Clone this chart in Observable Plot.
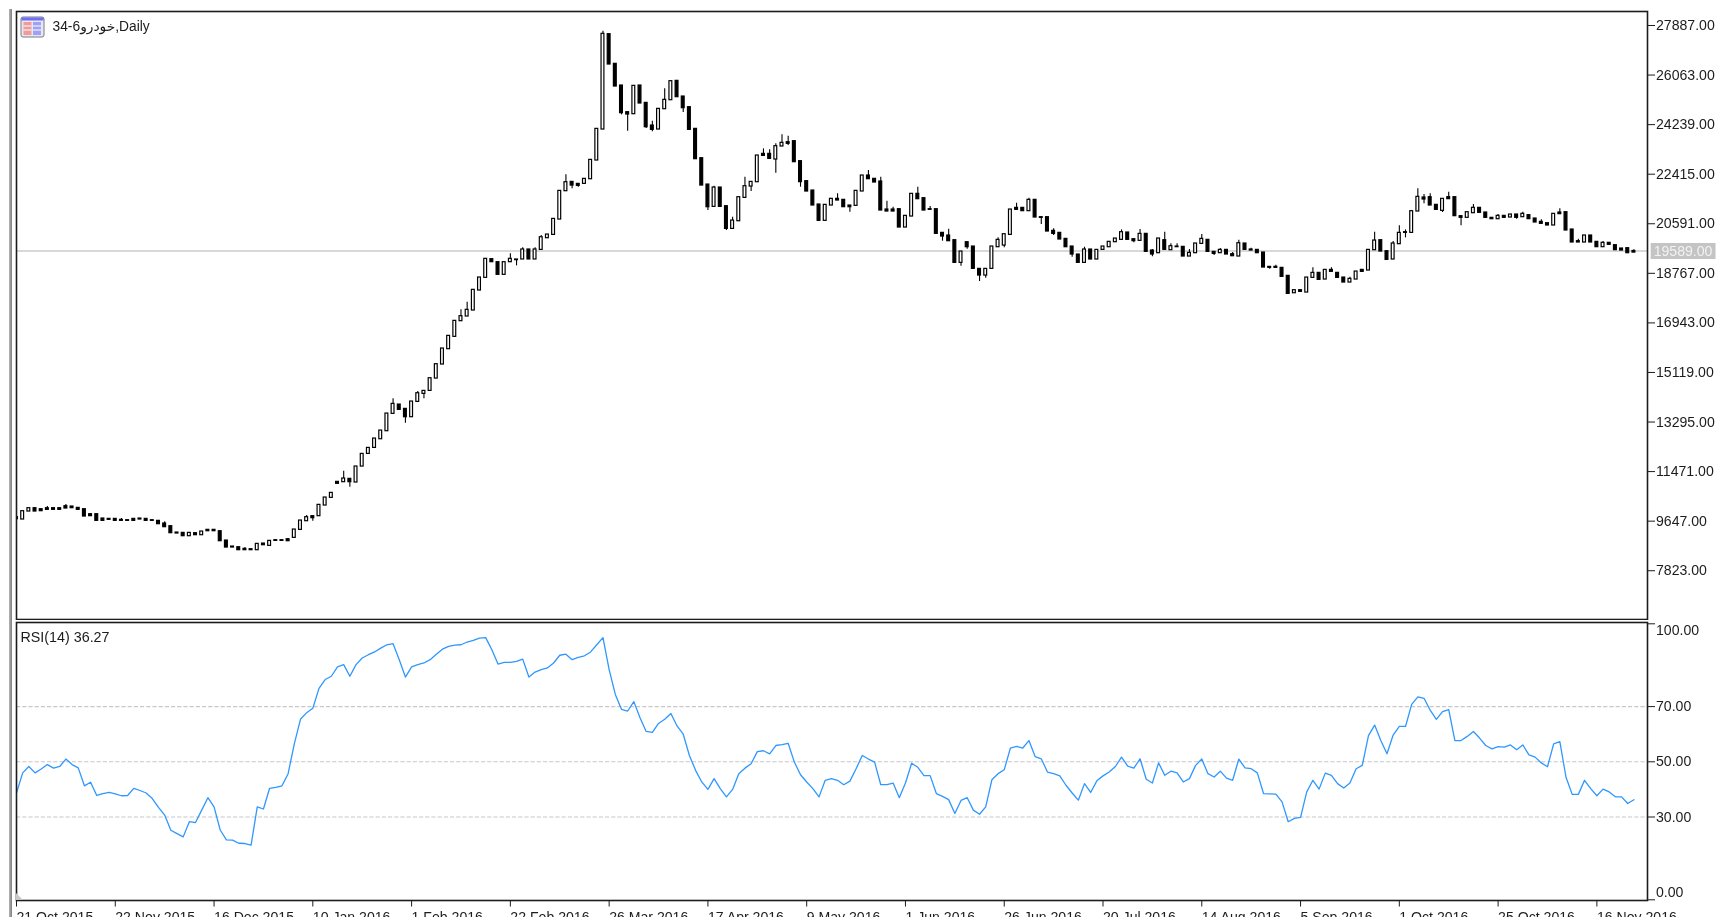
<!DOCTYPE html>
<html><head><meta charset="utf-8">
<style>
html,body{margin:0;padding:0;width:1716px;height:917px;overflow:hidden;background:#fff}
.pane{position:absolute;left:0;filter:blur(0.35px)}
.pane svg{display:block;background:transparent;max-width:none}
#rail{position:absolute;left:8.5px;top:9px;width:3.5px;height:908px;background:linear-gradient(90deg,#b4b4b4,#7f7f7f)}
#icon{position:absolute;left:20px;top:16px;z-index:5}
#corner{position:absolute;left:16px;top:893px;width:7px;height:7px;background:#c8c8c8;clip-path:polygon(0 0,100% 100%,0 100%);z-index:5}
</style>
<script src="https://cdn.jsdelivr.net/npm/d3@7"></script>
<script src="https://cdn.jsdelivr.net/npm/@observablehq/plot@0.6"></script>
</head><body>
<div id="rail"></div>
<div id="price" class="pane" style="top:0"></div>
<div id="rsi" class="pane" style="top:620px"></div>
<svg id="icon" width="25" height="22" viewBox="0 0 25 22">
<rect x="1" y="1" width="23" height="20" rx="2" fill="#e8e8f0" stroke="#7a7a88"/>
<rect x="1.5" y="1.5" width="22" height="3" fill="#6f6ff5"/>
<rect x="3.5" y="6" width="8" height="13" fill="#f09a9a"/>
<rect x="13" y="6" width="8" height="13" fill="#a0a0f8"/>
<path d="M3.5 10h8M3.5 14h8M13 10h8M13 14h8" stroke="#fff" stroke-width="1"/>
</svg>
<div id="corner"></div>
<script>
const chartTitle = "34-6خودرو,Daily";
const rsiTitle = "RSI(14) 36.27";
const lastPrice = 19589;
const priceTicks = [27887,26063,24239,22415,20591,18767,16943,15119,13295,11471,9647,7823];
const rsiTickMarks = [100,70,50,30,0];
const rsiMidTicks = [70,50,30];
const rsiLevels = [70,50,30];
const dateTickBars = [0,16,32,48,64,80,96,112,128,144,160,176,192,208,224,240,256];
const dateTickLabels = ["21 Oct 2015","22 Nov 2015","16 Dec 2015","10 Jan 2016","1 Feb 2016","22 Feb 2016","26 Mar 2016","17 Apr 2016","9 May 2016","1 Jun 2016","26 Jun 2016","20 Jul 2016","14 Aug 2016","5 Sep 2016","1 Oct 2016","25 Oct 2016","16 Nov 2016"];

const opens = [
9793,9707,10001,10124,10087,10124,10124,10124,10198,10185,
10136,10087,9903,9903,9744,9731,9731,9695,9682,9731,
9744,9731,9682,9658,9560,9461,9228,9216,9093,9204,
9130,9327,9327,9277,8934,8713,8688,8627,8615,8578,
8823,8738,8946,8946,8983,9032,9326,9645,9830,9830,
10222,10504,11093,11081,11204,11069,11656,12122,12343,12662,
12957,13595,13938,13779,13472,14036,14331,14441,14895,15411,
15975,16429,17006,17177,17398,18134,18601,19288,19177,18711,
19177,19276,19276,19644,19276,19629,20059,20181,20746,21789,
22132,22059,22059,22230,22918,24059,27568,26476,25678,24697,
24623,25678,25040,24206,24059,24807,25138,25850,25273,24881,
24083,23003,22034,21212,21924,21237,20402,20684,21543,21960,
22120,23163,23163,22955,23434,23593,23630,22894,22158,21814,
21299,20698,21262,21508,21471,21262,21250,21778,22366,22244,
22146,21115,21115,21127,20452,20857,21692,21532,21127,21127,
20256,20158,19986,19152,19912,19753,18931,18685,18931,19728,
19790,20182,21176,21176,21054,21471,20833,20833,20330,20256,
20035,19753,19459,19152,19643,19275,19630,19728,19912,19999,
20269,20023,19962,20219,19606,19508,19986,19618,19753,19741,
19385,19508,19851,19999,19557,19508,19630,19471,19385,19864,
19643,19630,19532,19005,19005,18968,18674,18035,18146,18060,
18600,18784,18538,18894,18784,18612,18428,18538,18894,18870,
19618,19986,19581,19275,19839,20281,20256,21042,21557,21569,
21287,21066,21569,21569,20870,20809,20980,21177,21005,20809,
20759,20882,20821,20931,20833,20907,20784,20661,20612,20527,
21005,21017,20379,19950,19901,20159,19925,19729,19889,19803,
19680,19692,19589];

const closes = [
9719,10014,10124,10001,10014,10063,10063,10063,10112,10124,
10063,9817,9830,9658,9658,9695,9658,9658,9658,9658,
9707,9658,9658,9535,9425,9204,9192,9093,9216,9130,
9265,9277,9277,8909,8676,8676,8578,8578,8578,8811,
8762,8921,8921,8921,8909,9339,9670,9793,9756,10247,
10517,10688,11020,11216,11081,11658,12122,12343,12687,12981,
13607,13963,13742,13472,14049,14355,14441,14907,15423,16000,
16466,17018,17190,17423,18159,18613,19300,19177,18711,19177,
19300,19251,19644,19276,19644,20095,20194,20770,21801,22120,
21997,21985,22243,22942,24083,27580,26451,25641,24660,24611,
25666,25016,24145,24046,24819,25151,25838,25249,24844,24046,
22967,21997,21200,21924,21212,20402,20709,21568,21973,22132,
23102,23089,22979,23446,23569,23532,22857,22121,21777,21262,
20698,21287,21508,21446,21201,21201,21802,22366,22231,22109,
21078,21041,21041,20452,20882,21692,21495,21078,21103,20219,
20121,19949,19152,19569,19728,18931,18685,18931,19753,19998,
20207,21115,21103,21054,21471,20820,20808,20305,20219,20011,
19728,19459,19152,19643,19275,19630,19753,19925,20047,20281,
19999,19950,20219,19557,19459,20048,19630,19765,19729,19385,
19520,19864,20035,19557,19483,19630,19459,19397,19876,19630,
19606,19508,18980,18968,18968,18637,18011,18146,18085,18612,
18784,18526,18894,18821,18600,18428,18563,18833,18821,19630,
19974,19569,19262,19864,20256,20256,21054,21581,21483,21262,
21103,21508,21496,20870,20809,21017,21177,20993,20809,20759,
20882,20809,20931,20809,20956,20760,20637,20588,20527,20956,
20944,20343,19901,19901,20159,19901,19729,19889,19815,19619,
19606,19508,19530];

const highBars = [5,8,17,24,37,47,53,61,65,72,73,80,82,84,85,89,95,103,105,113,116,118,121,122,123,124,125,133,138,140,141,142,146,148,151,159,162,164,168,173,179,182,184,186,187,188,190,192,195,197,198,200,204,210,213,216,220,223,224,225,227,228,229,232,236,240,244,247,250,253,257,262];
const highPrices = [10185,10259,9744,9621,8676,9854,11486,14147,14417,17423,17705,19484,19705,19705,20157,22390,27678,24365,25556,21973,20832,22304,23347,23310,23532,23863,23814,21692,22550,22305,21422,21201,21937,21225,20391,20072,21348,21532,20403,19728,20367,20379,19643,20281,19851,19851,19643,20195,19680,19532,19986,19692,19066,18968,18968,18624,20281,19937,20514,20367,21876,21667,21692,21753,21299,20931,21017,20735,21140,20024,19938,19631];
const lowBars = [48,54,63,66,81,90,91,98,99,102,103,108,112,115,119,123,125,127,135,150,153,154,156,157,160,166,168,171,181,184,194,203,225,228,231,234,243];
const lowPrices = [9645,10897,13251,14147,19042,21875,21936,24598,23997,24095,23973,24684,21077,20341,21776,22452,23471,21937,21017,19949,19029,19655,18465,18587,19704,20563,20158,19360,19888,19373,19422,18919,20072,21324,21005,20514,20759];

const rsiValues = [
38.7,46,48.3,46,47.4,49,47.7,48.3,51,49,
47.8,41.3,42.6,37.8,38.5,38.9,38.4,37.7,37.8,40.4,
39.6,38.7,36.7,33.5,30.7,25.2,24,22.8,28.3,28,
32.5,37,33.7,25.3,21.7,21.6,20.5,20.4,19.8,33.7,
32.9,40.4,40.7,41.3,45.7,56.5,65.4,67.8,69.4,76.6,
79.8,81,84.4,85.2,81,85.2,87.6,88.8,89.8,91.2,
92.4,92.8,87,80.7,84.4,85.2,85.8,87,89,90.8,
91.8,92.3,92.4,93.4,94,94.8,95,90.6,85.4,86,
86,86.4,87.2,80.7,82.5,83.4,84,85.8,88.6,89,
87,87.8,88.4,89.8,92.4,95,83.4,74.4,69,68.4,
71.8,66,61,60.7,63.9,65.4,67.5,63,60,52.3,
46.9,42.7,40,43.9,40.3,37.3,40,45.7,47.7,49.3,
53.7,54,52.9,55.9,56.2,56.7,49.9,45.3,42.7,40.3,
37.3,43.3,43.9,43.3,41.7,43,47.5,52.3,51,49.9,
41.7,41.7,42.3,37,42.3,49.5,48,45,45,38.5,
37.5,36.3,31.3,36,37,32.5,31,33.7,43.5,45.7,
47.1,55,55.6,55,57.7,51.9,51.1,46.3,45.7,44.9,
41.5,38.7,36.1,42.1,38.9,43.1,44.9,46.3,48.3,51.7,
48.4,47.7,51.1,43.7,42.3,49.6,45.1,46.6,46,42.7,
43.9,48.7,51,45.7,44.5,46.6,44.1,43.3,51,47.8,
47.5,46,38.5,38.4,38.3,35.5,28.3,29.5,29.9,39.1,
43.3,40.1,45.9,45.1,42.1,40.5,42.3,47.5,48.7,59.5,
63.3,57.7,52.9,59.7,62.8,62.8,70.8,73.5,73,68.7,
65.4,68.2,68.9,57.7,57.7,59.2,61,58.6,55.9,54.7,
55.5,55.3,56.1,54.4,56.1,52.5,51.7,49.6,48.2,56.5,
57.3,44.4,38.2,38.2,43.3,40.3,37.7,40.1,39.1,37.3,
37.3,34.9,36.27];

const FONT = '"Liberation Sans","DejaVu Sans",sans-serif';
const INK = "#1c1c1c";
const LABEL_SIZE = 14.1;
const xDomain = [0, 264.2];
const bars = opens.map((o,i)=>({i,o,c:closes[i],up:closes[i]>=o}));
const highRows = highBars.map((b,k)=>({b,from:Math.max(opens[b],closes[b]),to:highPrices[k]}));
const lowRows = lowBars.map((b,k)=>({b,from:Math.min(opens[b],closes[b]),to:lowPrices[k]}));
const rsiRows = rsiValues.map((v,i)=>({i,v}));

const pricePlot = Plot.plot({
  width:1716, height:620, marginLeft:16, marginRight:69, marginTop:11, marginBottom:1,
  style:{fontFamily:FONT,background:"transparent"},
  x:{domain:xDomain,axis:null},
  y:{domain:[6028,28402],axis:null},
  marks:[
    Plot.ruleY([lastPrice],{stroke:"#cbcbcb",strokeWidth:1.5}),
    Plot.ruleX(highRows,{x:"b",y1:"from",y2:"to",stroke:"#000",strokeWidth:1.1,clip:true}),
    Plot.ruleX(lowRows,{x:"b",y1:"from",y2:"to",stroke:"#000",strokeWidth:1.1,clip:true}),
    Plot.rectY(bars,{x1:d=>d.i-0.23,x2:d=>d.i+0.23,y1:"o",y2:"c",fill:d=>d.up?"#fff":"#000",stroke:"#000",strokeWidth:1.2,clip:true}),
    Plot.frame({stroke:INK,strokeWidth:1.6}),
    Plot.axisY({anchor:"right",label:null,ticks:priceTicks,tickSize:7,tickPadding:1.5,tickFormat:d=>d.toFixed(2),textAnchor:"start",fontSize:LABEL_SIZE,stroke:INK,fill:INK}),
    Plot.ruleY([lastPrice],{x1:264.8,x2:275.3,stroke:"#c4c4c4",strokeWidth:16,clip:false}),
    Plot.text([lastPrice],{x:265.2,y:d=>d,text:d=>d.toFixed(2),textAnchor:"start",fontSize:LABEL_SIZE,fill:"#f2f2f2"}),
    Plot.text([chartTitle],{frameAnchor:"top-left",dx:36,dy:10,textAnchor:"start",lineAnchor:"top",fontSize:13.8,fill:INK})
  ]
});
document.getElementById("price").append(pricePlot);

const rsiPlot = Plot.plot({
  width:1716, height:297, marginLeft:16, marginRight:69, marginTop:2, marginBottom:17,
  style:{fontFamily:FONT,background:"transparent",overflow:"visible"},
  x:{domain:xDomain,axis:null},
  y:{domain:[-0.25,100.47],axis:null},
  marks:[
    Plot.ruleY(rsiLevels,{stroke:"#c8c8c8",strokeWidth:1.1,strokeDasharray:"4.2,2"}),
    Plot.line(rsiRows,{x:"i",y:"v",stroke:"#2f97ff",strokeWidth:1.3,clip:true}),
    Plot.frame({stroke:INK,strokeWidth:1.6}),
    Plot.axisY({anchor:"right",label:null,ticks:rsiTickMarks,tickSize:7,tickFormat:()=>"",stroke:INK}),
    Plot.axisY({anchor:"right",label:null,ticks:rsiMidTicks,tickSize:0,tickPadding:8.5,tickFormat:d=>d.toFixed(2),textAnchor:"start",fontSize:LABEL_SIZE,fill:INK}),
    Plot.axisY({anchor:"right",label:null,ticks:[100],tickSize:0,tickPadding:8.5,dy:7,tickFormat:d=>d.toFixed(2),textAnchor:"start",fontSize:LABEL_SIZE,fill:INK}),
    Plot.axisY({anchor:"right",label:null,ticks:[0],tickSize:0,tickPadding:8.5,dy:-7,tickFormat:d=>d.toFixed(2),textAnchor:"start",fontSize:LABEL_SIZE,fill:INK}),
    Plot.axisX({anchor:"bottom",label:null,ticks:dateTickBars,tickSize:6.5,tickPadding:4.5,tickFormat:d=>dateTickLabels[dateTickBars.indexOf(d)],textAnchor:"start",lineAnchor:"top",fontSize:LABEL_SIZE,stroke:INK,fill:INK}),
    Plot.text([rsiTitle],{frameAnchor:"top-left",dx:4,dy:9,textAnchor:"start",lineAnchor:"top",fontSize:14.3,fill:INK})
  ]
});
document.getElementById("rsi").append(rsiPlot);
</script>
</body></html>
